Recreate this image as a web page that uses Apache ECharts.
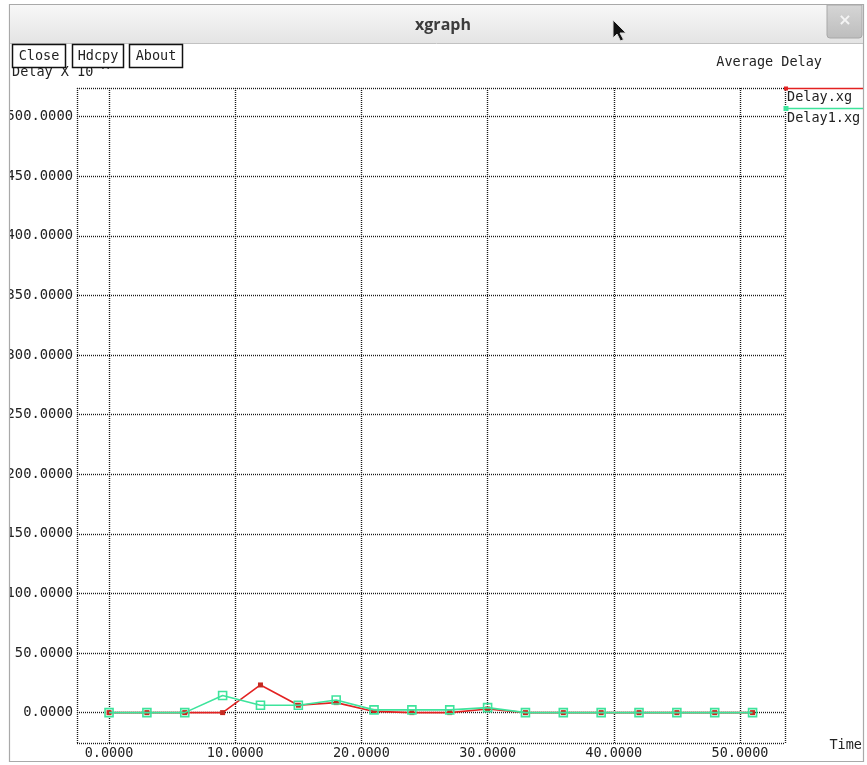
<!DOCTYPE html>
<html>
<head>
<meta charset="utf-8">
<script src="https://cdn.jsdelivr.net/npm/echarts@6/dist/echarts.min.js"></script>
<style>html,body{margin:0;padding:0;background:#fff}#c{width:867px;height:765px}</style>
</head>
<body>
<div id="c"></div>
<script>
// ---- data ----
var timeX = [0, 3, 6, 9, 12, 15, 18, 21, 24, 27, 30, 33, 36, 39, 42, 45, 48, 51];
var delay = [0, 0, 0, 0, 23.2, 6.2, 8.4, 1.0, 0, 0, 3.0, 0, 0, 0, 0, 0, 0, 0];
var delay1 = [0, 0, 0, 14.3, 6.2, 6.2, 10.6, 2.3, 2.3, 2.3, 4.2, 0, 0, 0, 0, 0, 0, 0];
var xTicks = [0, 10, 20, 30, 40, 50];
var yTicks = [0, 50, 100, 150, 200, 250, 300, 350, 400, 450, 500];
var seriesNames = ['Delay.xg', 'Delay1.xg'];
var X_MIN = -2.54, X_MAX = 53.57, Y_MIN = -25.5, Y_MAX = 524.1;

var MONO = '"DejaVu Sans Mono", "Liberation Mono", monospace';
var RED = '#e32222', GREEN = '#3ee49c';

function pairs(xs, ys) { return xs.map(function (x, i) { return [x, ys[i]]; }); }

var gridLines = [];
xTicks.forEach(function (v) { gridLines.push({ xAxis: v }); });
yTicks.forEach(function (v) { gridLines.push({ yAxis: v }); });
// dotted frame
[X_MIN, X_MAX].forEach(function (v) { gridLines.push({ xAxis: v }); });
[Y_MIN, Y_MAX].forEach(function (v) { gridLines.push({ yAxis: v }); });

var chart = echarts.init(document.getElementById('c'), null, { renderer: 'canvas' });
var option = {
  backgroundColor: '#ffffff',
  animation: false,
  grid: { left: 77, top: 88, width: 708, height: 655, containLabel: false },
  xAxis: {
    type: 'value', min: X_MIN, max: X_MAX,
    axisLine: { show: false }, axisTick: { show: false }, splitLine: { show: false },
    axisLabel: {
      customValues: xTicks, margin: 3,
      formatter: function (v) { return v.toFixed(4); },
      fontFamily: MONO, fontSize: 13.5, color: '#222'
    }
  },
  yAxis: {
    type: 'value', min: Y_MIN, max: Y_MAX,
    axisLine: { show: false }, axisTick: { show: false }, splitLine: { show: false },
    axisLabel: {
      customValues: yTicks, margin: 4,
      formatter: function (v) { return v.toFixed(4); },
      fontFamily: MONO, fontSize: 13.8, color: '#222'
    }
  },
  series: [
    {
      name: seriesNames[0], type: 'line', data: pairs(timeX, delay),
      symbol: 'rect', symbolSize: 5,
      lineStyle: { color: RED, width: 1.6 },
      itemStyle: { color: '#c62a20' },
      z: 3,
      markLine: {
        silent: true, symbol: ['none', 'none'], label: { show: false },
        lineStyle: { color: '#1a1a1a', type: [1, 1], width: 1.4 },
        data: gridLines, animation: false, z: 1
      }
    },
    {
      name: seriesNames[1], type: 'line', data: pairs(timeX, delay1),
      symbol: 'rect', symbolSize: 8,
      lineStyle: { color: GREEN, width: 1.6 },
      itemStyle: { color: 'rgba(0,0,0,0)', borderColor: GREEN, borderWidth: 1.6 },
      z: 4
    }
  ],
  graphic: [
    // left clipping area
    { type: 'rect', shape: { x: 0, y: 0, width: 9.5, height: 765 }, style: { fill: '#ffffff' }, z: 99 },
    { type: 'rect', shape: { x: 0, y: 762, width: 867, height: 3 }, style: { fill: '#ffffff' }, z: 99 },
    // window frame
    { type: 'rect', shape: { x: 9.5, y: 4.5, width: 854, height: 757 }, style: { fill: 'none', stroke: '#a9a9a9', lineWidth: 1.2 }, z: 100 },
    // title bar
    { type: 'rect', shape: { x: 10, y: 5, width: 853, height: 38 },
      style: { fill: new echarts.graphic.LinearGradient(0, 0, 0, 1, [{ offset: 0, color: '#f7f7f7' }, { offset: 1, color: '#e4e4e4' }]) }, z: 100 },
    { type: 'line', shape: { x1: 10, y1: 43.5, x2: 863, y2: 43.5 }, style: { stroke: '#c2c2c2', lineWidth: 1 }, z: 100 },
    { type: 'text', style: { text: 'xgraph', x: 443, y: 25, textAlign: 'center', textVerticalAlign: 'middle',
      font: 'bold 16px "Open Sans", "DejaVu Sans", sans-serif', fill: '#3c3c3c' }, z: 101 },
    // close button
    { type: 'rect', shape: { x: 827, y: 5, width: 35, height: 33, r: [0, 0, 3, 3] },
      style: { fill: new echarts.graphic.LinearGradient(0, 0, 0, 1, [{ offset: 0, color: '#d6d6d6' }, { offset: 1, color: '#bdbdbd' }]), stroke: '#a8a8a8', lineWidth: 1 }, z: 101 },
    { type: 'text', style: { text: '×', x: 845, y: 21, textAlign: 'center', textVerticalAlign: 'middle',
      font: 'bold 16px "DejaVu Sans", sans-serif', fill: '#f4f4f4' }, z: 102 },
    // mouse cursor
    { type: 'polygon', shape: { points: [[613, 20], [613, 38], [617, 34], [620.5, 41], [623.5, 39.5], [620, 33], [626, 33]] },
      style: { fill: '#111', stroke: '#ddd', lineWidth: 1 }, z: 103 },
    // y axis unit text (partly hidden by buttons)
    { type: 'text', style: { text: 'Delay X 10 ^', x: 12, y: 72, textVerticalAlign: 'middle', font: '13.5px ' + MONO, fill: '#222' }, z: 100 },
    // buttons
    { type: 'rect', shape: { x: 12.5, y: 44.5, width: 53, height: 23 }, style: { fill: '#fff', stroke: '#111', lineWidth: 1.5 }, z: 104 },
    { type: 'text', style: { text: 'Close', x: 39, y: 56, textAlign: 'center', textVerticalAlign: 'middle', font: '13.5px ' + MONO, fill: '#222' }, z: 105 },
    { type: 'rect', shape: { x: 72.5, y: 44.5, width: 51, height: 23 }, style: { fill: '#fff', stroke: '#111', lineWidth: 1.5 }, z: 104 },
    { type: 'text', style: { text: 'Hdcpy', x: 98, y: 56, textAlign: 'center', textVerticalAlign: 'middle', font: '13.5px ' + MONO, fill: '#222' }, z: 105 },
    { type: 'rect', shape: { x: 129.5, y: 44.5, width: 53, height: 23 }, style: { fill: '#fff', stroke: '#111', lineWidth: 1.5 }, z: 104 },
    { type: 'text', style: { text: 'About', x: 156, y: 56, textAlign: 'center', textVerticalAlign: 'middle', font: '13.5px ' + MONO, fill: '#222' }, z: 105 },
    // chart title
    { type: 'text', style: { text: 'Average Delay', x: 822, y: 62, textAlign: 'right', textVerticalAlign: 'middle', font: '13.5px ' + MONO, fill: '#222' }, z: 100 },
    // x axis name
    { type: 'text', style: { text: 'Time', x: 862, y: 745, textAlign: 'right', textVerticalAlign: 'middle', font: '13.5px ' + MONO, fill: '#222' }, z: 100 },
    // legend
    { type: 'line', shape: { x1: 786, y1: 88.5, x2: 863, y2: 88.5 }, style: { stroke: RED, lineWidth: 1.5 }, z: 100 },
    { type: 'rect', shape: { x: 784, y: 86.5, width: 4, height: 4 }, style: { fill: RED }, z: 100 },
    { type: 'text', style: { text: seriesNames[0], x: 787, y: 97, textVerticalAlign: 'middle', font: '13.5px ' + MONO, fill: '#222' }, z: 100 },
    { type: 'line', shape: { x1: 786, y1: 108.5, x2: 863, y2: 108.5 }, style: { stroke: GREEN, lineWidth: 1.5 }, z: 100 },
    { type: 'rect', shape: { x: 783.5, y: 106, width: 5, height: 5 }, style: { fill: GREEN }, z: 100 },
    { type: 'text', style: { text: seriesNames[1], x: 787, y: 118, textVerticalAlign: 'middle', font: '13.5px ' + MONO, fill: '#222' }, z: 100 }
  ]
};
chart.setOption(option);
</script>
</body>
</html>
